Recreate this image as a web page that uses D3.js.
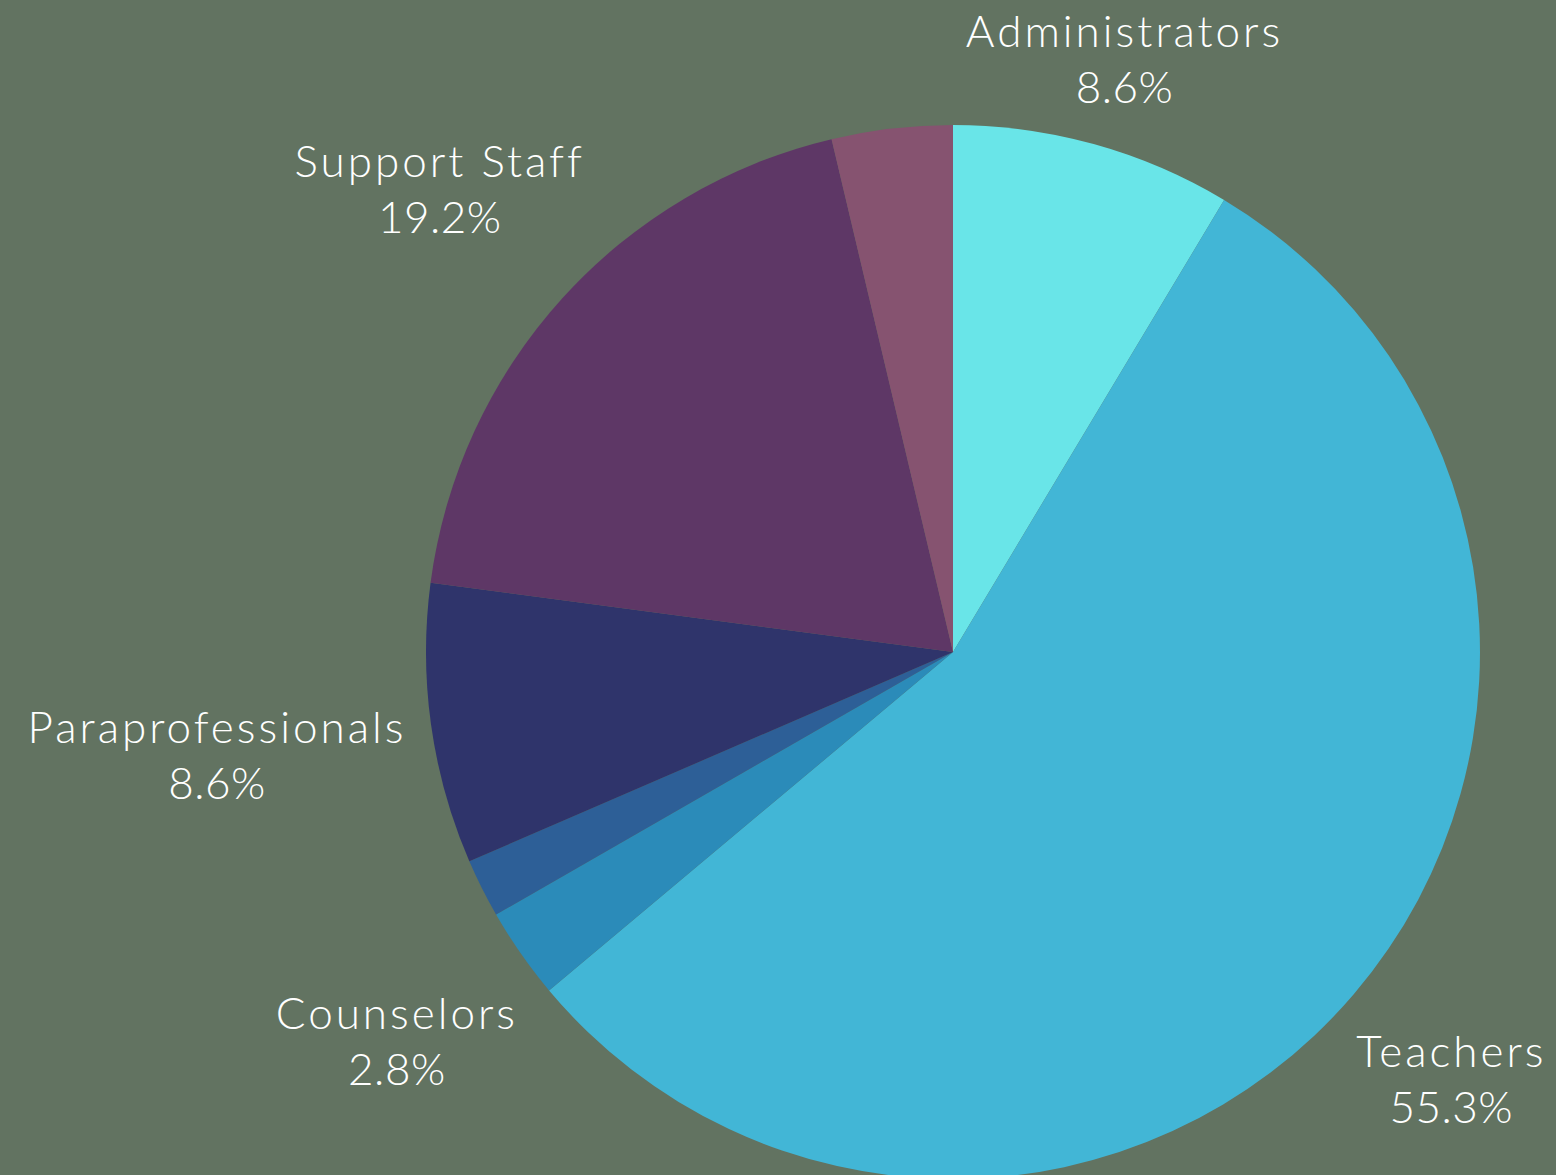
<!DOCTYPE html>
<html>
<head>
<meta charset="utf-8">
<script src="https://cdn.jsdelivr.net/npm/d3@7"></script>
<style>
  body { margin: 0; background: #627361; }
  svg { display: block; }
</style>
</head>
<body>
<div id="viz"></div>
<script>
const width = 1556;
const height = 1175;
const cx = 953, cy = 652, radius = 527;
const labelGap = 21;

// staff categories, clockwise from 12 o'clock
const categories = ['Administrators', 'Teachers', 'Counselors', 'Specialists', 'Paraprofessionals', 'Support Staff', 'Other'];
const shares = [8.6, 55.3, 2.8, 1.8, 8.6, 19.2, 3.7];
const showLabel = [true, true, true, false, true, true, false];
const colors = ['#69e5e8', '#42b6d6', '#2b8bb9', '#2d5f97', '#2f346b', '#5e3766', '#865370'];

const data = categories.map((c, i) => ({name: c, value: shares[i], color: colors[i], label: showLabel[i]}));

const svg = d3.select('#viz')
  .append('svg')
  .attr('width', width)
  .attr('height', height);

svg.append('rect')
  .attr('width', width)
  .attr('height', height)
  .attr('fill', '#627361');

const pie = d3.pie().sort(null).value(d => d.value);
const arc = d3.arc().innerRadius(0).outerRadius(radius);
const arcs = pie(data);

const g = svg.append('g').attr('transform', `translate(${cx},${cy})`);

g.selectAll('path')
  .data(arcs)
  .join('path')
    .attr('d', arc)
    .attr('fill', d => d.data.color);

// labels outside the pie
const labels = svg.append('g')
  .attr('font-family', 'Lato, "Open Sans", sans-serif')
  .attr('font-weight', 300)
  .attr('font-size', 44)
  .attr('fill', '#ffffff')
  .attr('text-anchor', 'middle');

arcs.filter(d => d.data.label).forEach(d => {
  const t = labels.append('text');
  t.append('tspan').attr('x', 0).attr('y', 0).attr('letter-spacing', 3).text(d.data.name);
  t.append('tspan').attr('x', 0).attr('y', 56).attr('letter-spacing', 0.5).text(d.data.value.toFixed(1) + '%');

  const bb = t.node().getBBox();
  const mid = (d.startAngle + d.endAngle) / 2;
  const sx = Math.sin(mid), sy = -Math.cos(mid);
  const dist = radius + labelGap + Math.abs(sx) * bb.width / 2 + Math.abs(sy) * bb.height / 2;
  let px = cx + sx * dist;
  let py = cy + sy * dist;
  // keep inside the picture
  const top = py - bb.height / 2;
  if (top < 4) py += 4 - top;
  const right = px + bb.width / 2;
  if (right > width - 4) px -= right - (width - 4);
  t.attr('transform', `translate(${px - (bb.x + bb.width / 2)},${py - (bb.y + bb.height / 2)})`);
});
</script>
</body>
</html>
